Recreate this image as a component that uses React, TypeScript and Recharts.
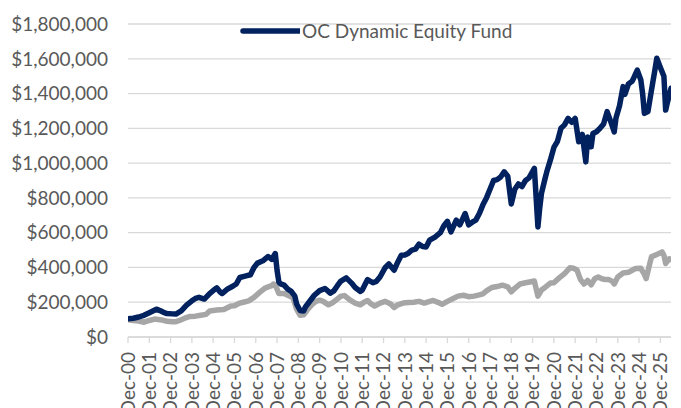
import { LineChart, Line, XAxis, YAxis, CartesianGrid, Legend } from 'recharts'

// month index counted from Dec-00 (0 = Dec-00, 12 = Dec-01, ...)
const fundMonths = [
  0, 3, 6, 9, 12, 14, 16, 18, 20, 22, 25, 27, 30, 33, 36, 38, 40, 43, 46, 49,
  50, 52, 53, 56, 59, 61, 63, 66, 69, 71, 73, 76, 78, 79, 81, 83, 84, 85, 86, 88,
  90, 92, 94, 95, 97, 99, 100, 102, 105, 108, 111, 114, 116, 118, 120, 123, 126, 128, 131, 132,
  135, 138, 140, 142, 145, 147, 150, 152, 154, 156, 158, 160, 162, 164, 166, 168, 170, 173, 176, 178,
  180, 182, 185, 187, 190, 192, 194, 196, 198, 200, 202, 204, 206, 208, 210, 212, 214, 216, 218, 220,
  222, 224, 226, 229, 231, 232, 233, 235, 236, 238, 240, 242, 244, 246, 248, 250, 252, 254, 256, 258,
  259, 261, 262, 264, 266, 268, 270, 272, 274, 275, 277, 279, 280, 282, 284, 285, 287, 289, 290, 291,
  293, 295, 297, 298, 300, 302, 303, 304, 306,
]
const fundValues = [
  105, 108, 115, 125, 140, 150, 160, 152, 142, 135, 133, 132, 150, 183, 208, 222, 228, 218, 250, 275,
  283, 258, 250, 275, 292, 305, 342, 350, 358, 400, 425, 438, 455, 463, 446, 480, 384, 317, 305, 298,
  275, 262, 235, 190, 152, 150, 173, 200, 240, 267, 279, 252, 265, 295, 322, 340, 310, 285, 262, 270,
  330, 312, 320, 345, 400, 420, 384, 430, 470, 472, 482, 500, 505, 534, 520, 518, 557, 575, 600, 640,
  665, 605, 672, 645, 710, 645, 660, 672, 710, 760, 800, 850, 900, 905, 920, 950, 925, 765, 850, 880,
  865, 900, 915, 970, 633, 740, 826, 910, 950, 1017, 1090, 1125, 1200, 1220, 1257, 1235, 1257, 1123, 1165, 1007,
  1150, 1094, 1170, 1180, 1200, 1225, 1296, 1240, 1180, 1260, 1330, 1440, 1395, 1455, 1470, 1490, 1535, 1478, 1400, 1286,
  1296, 1420, 1540, 1603, 1550, 1500, 1305, 1350, 1430,
]

const benchMonths = [
  0, 3, 6, 9, 12, 15, 19, 22, 25, 27, 29, 32, 35, 38, 41, 44, 46, 50, 54, 58,
  60, 63, 65, 68, 71, 74, 77, 79, 81, 82, 83, 85, 88, 91, 93, 95, 97, 99, 101, 104,
  106, 108, 110, 113, 115, 117, 120, 122, 125, 128, 131, 133, 135, 137, 139, 142, 145, 148, 150, 152,
  155, 158, 161, 164, 167, 170, 172, 175, 177, 180, 183, 186, 189, 192, 195, 198, 200, 202, 205, 208,
  211, 214, 216, 218, 221, 224, 227, 229, 231, 233, 235, 238, 240, 243, 246, 249, 251, 253, 255, 257,
  259, 261, 263, 265, 267, 269, 271, 273, 274, 276, 279, 282, 286, 289, 291, 292, 294, 295, 298, 301,
  302, 303, 305, 306,
]
const benchValues = [
  100, 95, 92, 85, 95, 103, 98, 90, 88, 88, 95, 108, 118, 120, 125, 130, 150, 155, 158, 178,
  180, 195, 200, 208, 228, 255, 280, 288, 295, 305, 300, 250, 250, 235, 225, 160, 125, 128, 155, 190,
  205, 212, 205, 185, 195, 211, 235, 238, 213, 195, 185, 200, 210, 190, 178, 195, 205, 190, 170, 185,
  195, 198, 200, 205, 195, 205, 210, 198, 188, 205, 220, 235, 240, 232, 235, 242, 248, 265, 285, 290,
  298, 288, 260, 280, 305, 312, 318, 322, 235, 270, 285, 310, 312, 340, 365, 398, 395, 385, 330, 305,
  325, 300, 335, 345, 335, 330, 330, 320, 305, 345, 368, 372, 394, 395, 360, 336, 420, 461, 475, 489,
  470, 423, 450, 446,
]

const years = [
  '00', '01', '02', '03', '04', '05', '06', '07', '08', '09', '10', '11', '12',
  '13', '14', '15', '16', '17', '18', '19', '20', '21', '22', '23', '24', '25',
]
const tickLabels = years.map((y) => `Dec-${y}`)
const yTicks = [0, 200000, 400000, 600000, 800000, 1000000, 1200000, 1400000, 1600000, 1800000]

const NAVY = '#02215F'
const GREY = '#A6A6A6'
const TEXT = '#595959'
const FONT = 'Lato, "Noto Sans", sans-serif'
const FONT_SIZE = 19

const fundData = fundMonths.map((m, i) => ({ m, value: fundValues[i] * 1000 }))
const benchData = benchMonths.map((m, i) => ({ m, value: benchValues[i] * 1000 }))

function MonthTick(props: any) {
  const { x, y, payload } = props
  const label = tickLabels[Math.round(payload.value / 12)]
  return (
    <g transform={`translate(${x},${y})`}>
      <text
        transform="rotate(-90)"
        x={-7}
        y={0}
        dy="0.36em"
        textAnchor="end"
        fill={TEXT}
        fontSize={FONT_SIZE}
        fontFamily={FONT}
      >
        {label}
      </text>
    </g>
  )
}

function FundLegend() {
  return (
    <div style={{ display: 'flex', alignItems: 'center', fontFamily: FONT, fontSize: FONT_SIZE, color: TEXT, lineHeight: '20px' }}>
      <svg width={60} height={10}>
        <line x1={3} y1={5} x2={59} y2={5} stroke={NAVY} strokeWidth={5.5} strokeLinecap="round" />
      </svg>
      <span style={{ marginLeft: 2, whiteSpace: 'nowrap' }}>OC Dynamic Equity Fund</span>
    </div>
  )
}

export default function App() {
  return (
    <div style={{ position: 'absolute', left: 0, top: 0, background: '#fff' }}>
      <LineChart width={681} height={408} margin={{ top: 24, right: 10, left: 0, bottom: 0 }}>
        <CartesianGrid vertical={false} stroke="#D9D9D9" strokeWidth={1.3} />
        <XAxis
          type="number"
          dataKey="m"
          domain={[0, 306]}
          allowDataOverflow
          ticks={years.map((_, i) => i * 12)}
          interval={0}
          height={71}
          axisLine={{ stroke: '#D9D9D9', strokeWidth: 1.3 }}
          tickLine={{ stroke: '#D9D9D9', strokeWidth: 1.3 }}
          tickSize={6}
          tickMargin={2}
          tick={<MonthTick />}
        />
        <YAxis
          width={128}
          domain={[0, 1800000]}
          ticks={yTicks}
          interval={0}
          axisLine={false}
          tickLine={false}
          tickSize={0}
          tickMargin={20}
          tick={{ fill: TEXT, fontSize: FONT_SIZE, fontFamily: FONT }}
          tickFormatter={(v: number) => `$${v.toLocaleString('en-US')}`}
        />
        <Legend
          layout="horizontal"
          verticalAlign="middle"
          content={<FundLegend />}
          wrapperStyle={{ top: 21, left: 240, width: 'auto' }}
        />
        <Line
          data={benchData}
          dataKey="value"
          type="linear"
          stroke={GREY}
          strokeWidth={5.5}
          dot={false}
          legendType="none"
          strokeLinejoin="round"
          strokeLinecap="round"
          isAnimationActive={false}
        />
        <Line
          data={fundData}
          dataKey="value"
          name="OC Dynamic Equity Fund"
          type="linear"
          stroke={NAVY}
          strokeWidth={5.5}
          dot={false}
          strokeLinejoin="round"
          strokeLinecap="round"
          isAnimationActive={false}
        />
      </LineChart>
    </div>
  )
}
